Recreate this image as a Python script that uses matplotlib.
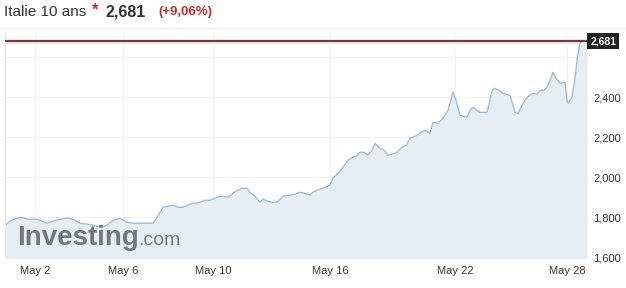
import numpy as np
import matplotlib
matplotlib.use("Agg")
import matplotlib.pyplot as plt

# position sur l'axe du temps (unités arbitraires) et rendement Italie 10 ans
t = [5, 10, 17, 20, 28, 37, 42, 47, 53, 60, 66, 70, 75, 80, 88, 97, 103, 108, 113, 120,
     127, 133, 140, 147, 153, 158, 163, 168, 173, 178, 183, 188, 192, 196, 200, 205, 210,
     217, 222, 228, 232, 237, 243, 247, 250, 255, 260, 263, 268, 272, 277, 283, 290, 295,
     300, 305, 310, 313, 317, 323, 330, 333, 338, 343, 348, 353, 356, 360, 364, 368, 372,
     375, 380, 384, 388, 392, 397, 402, 406, 410, 415, 420, 425, 430, 433, 438, 443, 448,
     453, 456, 460, 464, 467, 470, 473, 477, 480, 487, 490, 492, 495, 499, 503, 510, 513,
     515, 518, 522, 527, 533, 537, 540, 544, 547, 550, 553, 556, 560, 565, 567, 568, 572,
     575, 577, 580, 583, 587]
rendement = [1760, 1780, 1795, 1800, 1790, 1790, 1780, 1770, 1780, 1790, 1795, 1795, 1785,
             1770, 1765, 1755, 1750, 1765, 1785, 1795, 1775, 1770, 1770, 1770, 1770, 1805,
             1850, 1855, 1860, 1850, 1850, 1860, 1870, 1870, 1875, 1885, 1885, 1900, 1905,
             1900, 1915, 1935, 1945, 1945, 1925, 1905, 1875, 1890, 1880, 1875, 1875, 1905,
             1910, 1915, 1925, 1920, 1910, 1925, 1935, 1945, 1960, 1995, 2020, 2050, 2085,
             2100, 2105, 2125, 2125, 2110, 2135, 2170, 2145, 2135, 2110, 2115, 2125, 2150,
             2160, 2195, 2205, 2220, 2235, 2220, 2275, 2270, 2295, 2335, 2425, 2385, 2310,
             2305, 2300, 2335, 2350, 2335, 2325, 2325, 2385, 2435, 2445, 2435, 2420, 2410,
             2360, 2325, 2320, 2360, 2400, 2420, 2415, 2435, 2435, 2450, 2485, 2525, 2495,
             2470, 2475, 2385, 2370, 2400, 2495, 2585, 2670, 2685, 2681]

dernier = 2681
tick_pos = [35, 123, 213, 330, 455, 567]
tick_labels = ["May 2", "May 6", "May 10", "May 16", "May 22", "May 28"]
y_ticks = [1600, 1800, 2000, 2200, 2400]
y_grid = [1600, 1800, 2000, 2200, 2400, 2600]

plt.rcParams['font.family'] = ['Liberation Sans', 'DejaVu Sans']

fig = plt.figure(figsize=(6.26, 2.88), dpi=100)
ax = fig.add_axes([5 / 626, 30 / 288, 583 / 626, 225 / 288])

ax.fill_between(t, rendement, 1500, color="#e6eef4", lw=0)
ax.plot(t, rendement, color="#9dbdd1", lw=1.0)

# ligne du dernier cours
ax.axhline(dernier, color="#f6dde0", lw=3.5, zorder=1)
ax.axhline(dernier, color="#5c1a22", lw=1.2, zorder=3)

ax.set_xlim(5, 588)
ax.set_ylim(1596, 2722)

for y in y_grid:
    ax.axhline(y, color="#f2f2f2", lw=0.8, zorder=0)
for x in tick_pos:
    ax.axvline(x, color="#f2f2f2", lw=0.8, zorder=0)

ax.set_xticks(tick_pos)
ax.set_xticklabels(tick_labels)
ax.yaxis.tick_right()
ax.set_yticks(y_ticks)
ax.set_yticklabels([f"{v/1000:.3f}".replace(".", ",") for v in y_ticks])
ax.tick_params(axis="both", length=0, labelsize=8, colors="#333333")
ax.tick_params(axis="x", pad=6)
ax.tick_params(axis="y", pad=4)
for s in ["top", "right", "bottom"]:
    ax.spines[s].set_visible(False)
ax.spines["left"].set_color("#e8e8e8")

# étiquette du dernier cours
ax.text(1.004, dernier, f"{dernier/1000:.3f}".replace(".", ","), transform=ax.get_yaxis_transform(),
        fontsize=7.5, fontweight="bold", color="white", va="center", ha="left",
        bbox=dict(boxstyle="square,pad=0.3", fc="#222222", ec="none"))

# logo
fig.text(17 / 626, 1 - 245 / 288, "Investing", fontsize=20, fontweight="bold",
         color="#767676", va="baseline", ha="left")
fig.text(138 / 626, 1 - 245 / 288, ".com", fontsize=14, color="#7a7a7a",
         va="baseline", ha="left")

# en-tête
fig.text(4 / 626, 1 - 12 / 288, "Italie 10 ans", fontsize=11, color="#333333", va="center")
fig.text(92 / 626, 1 - 10 / 288, "*", fontsize=12, color="#e0202a", fontweight="bold", va="center")
fig.text(106 / 626, 1 - 12 / 288, "2,681", fontsize=11.5, fontweight="bold", color="#333333", va="center")
fig.text(158 / 626, 1 - 12 / 288, "(+9,06%)", fontsize=9.5, fontweight="bold", color="#cc2a2a", va="center")
fig.add_artist(plt.Line2D([0, 1], [1 - 28 / 288, 1 - 28 / 288], transform=fig.transFigure,
                          color="#eeeeee", lw=0.8))

fig.savefig("out.png", dpi=100)
